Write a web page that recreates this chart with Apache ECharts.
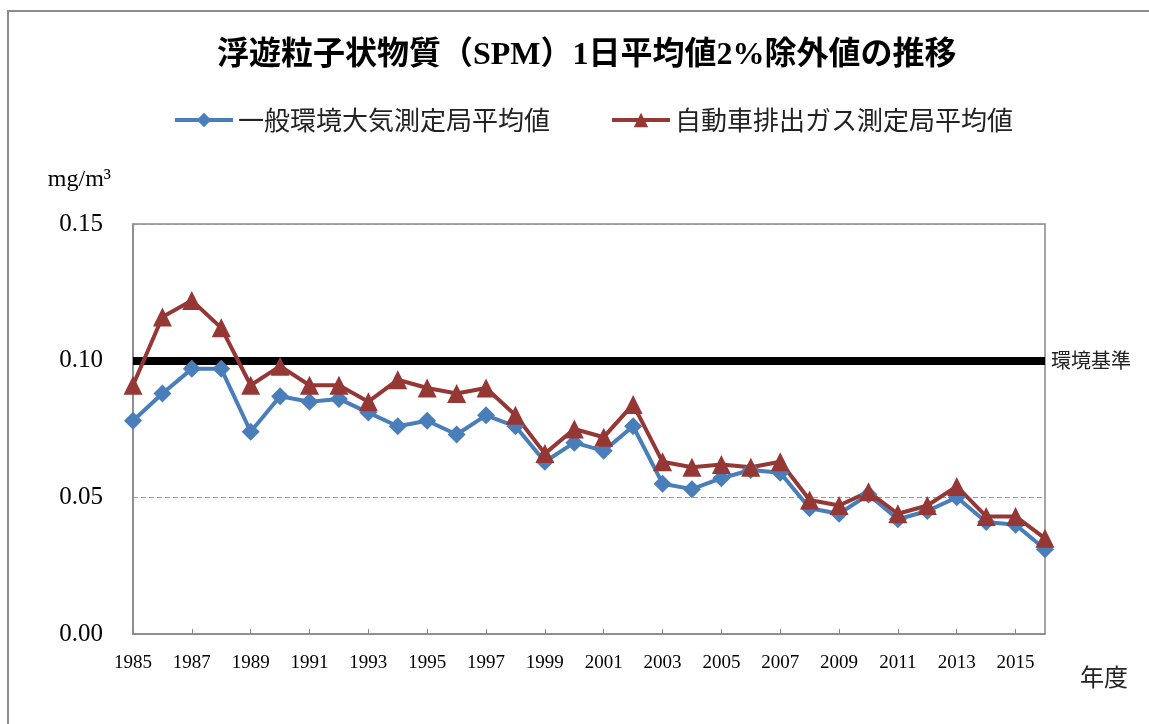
<!DOCTYPE html>
<html>
<head>
<meta charset="utf-8">
<script src="https://cdn.jsdelivr.net/npm/echarts@6/dist/echarts.min.js"></script>
<style>
  html, body { margin: 0; padding: 0; background: #fff; }
  #chart { width: 1149px; height: 724px; }
</style>
</head>
<body>
<div id="chart"></div>
<script>
// 年度
var years = ['1985','1986','1987','1988','1989','1990','1991','1992','1993','1994',
  '1995','1996','1997','1998','1999','2000','2001','2002','2003','2004',
  '2005','2006','2007','2008','2009','2010','2011','2012','2013','2014',
  '2015','2016'];

// 一般環境大気測定局平均値
var ippan = [0.078, 0.088, 0.097, 0.097, 0.074, 0.087, 0.085, 0.086, 0.081, 0.076,
  0.078, 0.073, 0.080, 0.076, 0.063, 0.070, 0.067, 0.076, 0.055, 0.053,
  0.057, 0.060, 0.059, 0.046, 0.044, 0.051, 0.042, 0.045, 0.050, 0.041,
  0.040, 0.031];

// 自動車排出ガス測定局平均値
var jihai = [0.091, 0.116, 0.122, 0.112, 0.091, 0.098, 0.091, 0.091, 0.085, 0.093,
  0.090, 0.088, 0.090, 0.080, 0.066, 0.075, 0.072, 0.084, 0.063, 0.061,
  0.062, 0.061, 0.063, 0.049, 0.047, 0.052, 0.044, 0.047, 0.054, 0.043,
  0.043, 0.035];

var standard = 0.10;

var serif = "'Liberation Serif', 'Noto Sans CJK JP', serif";
var cjk = "'Noto Sans CJK JP', sans-serif";

var chart = echarts.init(document.getElementById('chart'));
chart.setOption({
  animation: false,
  backgroundColor: '#fff',
  graphic: [{
    type: 'rect',
    shape: { x: 8, y: 11, width: 1300, height: 900 },
    style: { fill: 'none', stroke: '#8c8c8c', lineWidth: 2 },
    silent: true
  }],
  title: {
    text: '浮遊粒子状物質（SPM）1日平均値2%除外値の推移',
    left: 212,
    top: 35,
    textStyle: {
      fontFamily: serif,
      fontSize: 32,
      fontWeight: 'bold',
      color: '#000'
    }
  },
  legend: {
    top: 102,
    left: 168,
    itemWidth: 58,
    itemHeight: 18,
    itemGap: 60,
    lineStyle: { width: 4 },
    textStyle: { fontFamily: cjk, fontSize: 26, color: '#222' },
    data: ['一般環境大気測定局平均値', '自動車排出ガス測定局平均値']
  },
  grid: {
    left: 133,
    right: 104,
    top: 224,
    bottom: 90,
    show: true,
    borderColor: '#888',
    borderWidth: 1.5
  },
  xAxis: {
    type: 'category',
    boundaryGap: false,
    data: years,
    name: '年度',
    nameLocation: 'end',
    nameGap: 35,
    nameTextStyle: {
      fontFamily: cjk, fontSize: 24, color: '#222',
      align: 'left', verticalAlign: 'top', padding: [31, 0, 0, 0]
    },
    axisLine: { lineStyle: { color: '#888', width: 1.5 } },
    axisTick: { inside: true, length: 5, interval: 1, lineStyle: { color: '#888' } },
    axisLabel: {
      interval: 1,
      margin: 20,
      fontFamily: serif,
      fontSize: 19,
      color: '#000'
    }
  },
  yAxis: {
    type: 'value',
    min: 0,
    max: 0.15,
    interval: 0.05,
    name: 'mg/m³',
    nameLocation: 'end',
    nameGap: 32,
    nameTextStyle: {
      fontFamily: serif, fontSize: 24, color: '#000',
      align: 'right', padding: [0, 22, 0, 0]
    },
    axisLine: { show: true, lineStyle: { color: '#888', width: 1.5 } },
    axisTick: { show: false },
    axisLabel: {
      margin: 30,
      fontFamily: serif,
      fontSize: 25,
      color: '#000',
      formatter: function (v) { return v.toFixed(2); }
    },
    splitLine: { lineStyle: { color: '#999', type: [5, 3], width: 1.2 } }
  },
  series: [{
    name: '一般環境大気測定局平均値',
    type: 'line',
    data: ippan,
    symbol: 'diamond',
    symbolSize: 18,
    color: '#4A7EBB',
    lineStyle: { width: 4 },
    z: 3
  }, {
    name: '自動車排出ガス測定局平均値',
    type: 'line',
    data: jihai,
    symbol: 'triangle',
    symbolSize: 19,
    color: '#953735',
    lineStyle: { width: 4 },
    z: 3,
    markLine: {
      silent: true,
      symbol: 'none',
      lineStyle: { color: '#000', width: 8, type: 'solid' },
      label: {
        position: 'end',
        formatter: '環境基準',
        distance: 6,
        fontFamily: cjk,
        fontSize: 20,
        color: '#222',
        padding: [0, 0, 8, 0]
      },
      data: [{ yAxis: standard }],
      z: 2
    }
  }]
});
</script>
</body>
</html>
